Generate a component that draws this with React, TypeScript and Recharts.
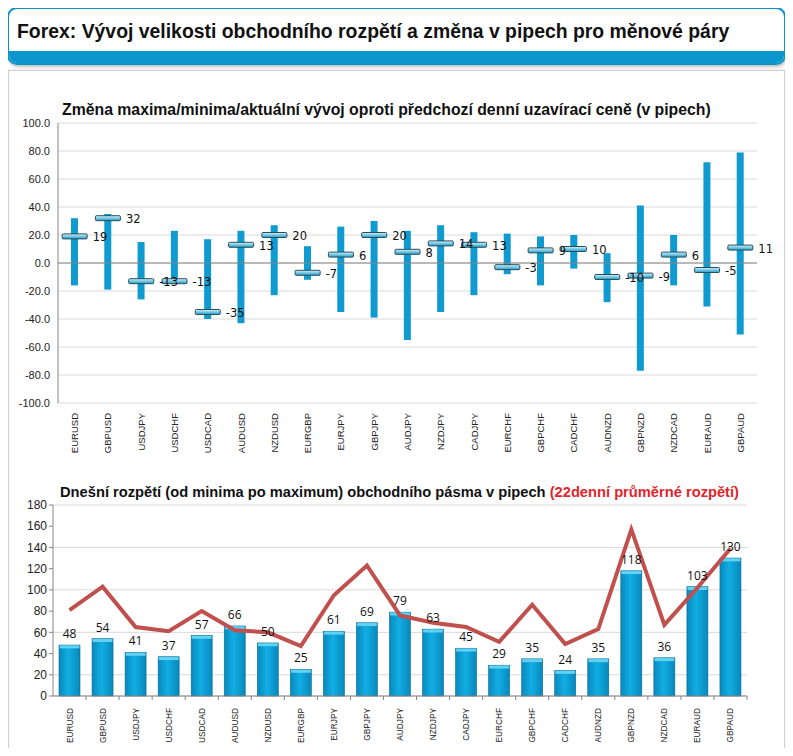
import React from 'react';
import { ComposedChart, Bar, Line, XAxis, YAxis, CartesianGrid, LabelList, ReferenceLine } from 'recharts';

const pairs = ['EURUSD', 'GBPUSD', 'USDJPY', 'USDCHF', 'USDCAD', 'AUDUSD', 'NZDUSD', 'EURGBP', 'EURJPY', 'GBPJPY', 'AUDJPY', 'NZDJPY', 'CADJPY', 'EURCHF', 'GBPCHF', 'CADCHF', 'AUDNZD', 'GBPNZD', 'NZDCAD', 'EURAUD', 'GBPAUD'];

// change vs previous daily close (pips)
const highs = [32, 35, 15, 23, 17, 23, 27, 12, 26, 30, 23, 27, 22, 21, 19, 20, 7, 41, 20, 72, 79];
const lows = [-16, -19, -26, -14, -40, -43, -23, -12, -35, -39, -55, -35, -23, -8, -16, -4, -28, -77, -16, -31, -51];
const current = [19, 32, -13, -13, -35, 13, 20, -7, 6, 20, 8, 14, 13, -3, 9, 10, -10, -9, 6, -5, 11];

// today's range and 22-day average range
const todayRange = [48, 54, 41, 37, 57, 66, 50, 25, 61, 69, 79, 63, 45, 29, 35, 24, 35, 118, 36, 103, 130];
const avgRange = [81, 103, 65, 61, 80, 62, 60, 47, 95, 123, 76, 69, 65, 51, 86, 49, 63, 157, 67, 102, 139];

const ticksTop = [-100, -80, -60, -40, -20, 0, 20, 40, 60, 80, 100];
const ticksBottom = [0, 20, 40, 60, 80, 100, 120, 140, 160, 180];

const changeData = pairs.map((p, i) => ({ pair: p, range: [lows[i], highs[i]], cur: current[i] }));
const rangeData = pairs.map((p, i) => ({ pair: p, today: todayRange[i], avg: avgRange[i] }));

const ARIAL = '"Liberation Sans", Arial, sans-serif';

const RotTick = (props: any) => {
  const { x, y, payload, size, gap, band } = props;
  const ty = y + gap;
  return (
    <g>
      {band ? <line x1={x + band / 2} x2={x + band / 2} y1={y - 8} y2={y - 4} stroke="#868686" /> : null}
      <text
        x={x}
        y={ty}
        transform={`rotate(-90 ${x} ${ty})`}
        textAnchor="end"
        dominantBaseline="central"
        fontSize={size}
        fontFamily={ARIAL}
        fill="#222"
      >
        {payload.value}
      </text>
    </g>
  );
};

const Marker = (props: any) => {
  const { cx, cy } = props;
  if (cx == null || cy == null) return null;
  return (
    <rect x={cx - 12.5} y={cy - 2.5} width={25} height={5} rx={1} fill="url(#mk)" stroke="#2a4f5a" strokeWidth={1} />
  );
};

const CurLabel = (props: any) => {
  const { x, y, value } = props;
  return (
    <text x={x + 18} y={y + 5} fontSize={11.5} fontFamily='"DejaVu Sans", sans-serif' fill="#111">
      {value}
    </text>
  );
};

const Bar3D = (props: any) => {
  const { x, y, width, height } = props;
  if (height <= 0) return null;
  return (
    <g>
      <rect x={x} y={y} width={width} height={height} fill="url(#barg)" stroke="#0b6a92" strokeWidth={0.6} />
      <rect x={x + 0.6} y={y + 0.3} width={width - 1.2} height={3} fill="#62d2f3" />
    </g>
  );
};

export default function App() {
  return (
    <div style={{ position: 'relative', width: 777, height: 740, fontFamily: ARIAL }}>
      <svg width={0} height={0} style={{ position: 'absolute' }}>
        <defs>
          <linearGradient id="mk" x1="0" y1="0" x2="0" y2="1">
            <stop offset="0%" stopColor="#d4f3fb" />
            <stop offset="100%" stopColor="#1f9cc9" />
          </linearGradient>
          <linearGradient id="barg" x1="0" y1="0" x2="1" y2="0">
            <stop offset="0%" stopColor="#0789bd" />
            <stop offset="45%" stopColor="#12aee4" />
            <stop offset="100%" stopColor="#0788bb" />
          </linearGradient>
        </defs>
      </svg>

      {/* header */}
      <div
        style={{
          position: 'absolute',
          left: -1,
          top: -1,
          width: 775,
          height: 54,
          border: '2px solid #0b92c9',
          borderRadius: 10,
          overflow: 'hidden',
          background: '#fff',
          boxShadow: '1px 2px 3px rgba(0,0,0,0.25)',
        }}
      >
        <div style={{ position: 'absolute', left: 8, top: 11, fontSize: 19.4, fontWeight: 'bold', color: '#111', whiteSpace: 'nowrap' }}>
          Forex: Vývoj velikosti obchodního rozpětí a změna v pipech pro měnové páry
        </div>
        <div style={{ position: 'absolute', left: 0, right: 0, bottom: 0, height: 12, background: '#0b96cc' }} />
      </div>

      {/* panel */}
      <div
        style={{
          position: 'absolute',
          left: 0,
          top: 62,
          width: 775,
          height: 700,
          border: '1px solid #d0d0d0',
          boxShadow: '-1px 0 3px rgba(0,0,0,0.12)',
          background: '#fff',
        }}
      />

      {/* chart 1 title */}
      <div style={{ position: 'absolute', left: 54, top: 93, fontSize: 15.8, fontWeight: 'bold', color: '#111', whiteSpace: 'nowrap' }}>
        Změna maxima/minima/aktuální vývoj oproti předchozí denní uzavírací ceně (v pipech)
      </div>

      <div style={{ position: 'absolute', left: 0, top: 87 }}>
        <ComposedChart width={770} height={370} data={changeData} margin={{ top: 28, right: 21, bottom: 0, left: 0 }}>
          <CartesianGrid horizontal vertical={false} stroke="#d9d9d9" />
          <XAxis
            dataKey="pair"
            interval={0}
            axisLine={false}
            tickLine={false}
            height={62}
            tick={<RotTick size={9.5} gap={2} />}
          />
          <YAxis
            domain={[-100, 100]}
            ticks={ticksTop}
            width={50}
            axisLine={{ stroke: '#868686' }}
            tickLine={false}
            tickFormatter={(v: number) => v.toFixed(1)}
            tick={{ fontSize: 11, fill: '#222', fontFamily: ARIAL }}
          />
          <ReferenceLine y={0} stroke="#868686" />
          <Bar dataKey="range" barSize={7} fill="#0f9ad0" isAnimationActive={false} />
          <Line
            dataKey="cur"
            stroke="transparent"
            dot={<Marker />}
            activeDot={false}
            isAnimationActive={false}
          >
            <LabelList dataKey="cur" content={<CurLabel />} />
          </Line>
        </ComposedChart>
      </div>

      {/* chart 2 title */}
      <div style={{ position: 'absolute', left: 52, top: 476, fontSize: 14.7, fontWeight: 'bold', color: '#111', whiteSpace: 'nowrap' }}>
        Dnešní rozpětí (od minima po maximum) obchodního pásma v pipech{' '}
        <span style={{ color: '#e0262c' }}>(22denní průměrné rozpětí)</span>
      </div>

      <div style={{ position: 'absolute', left: 0, top: 472 }}>
        <ComposedChart width={770} height={280} data={rangeData} margin={{ top: 25, right: 31, bottom: 0, left: 0 }}>
          <CartesianGrid horizontal vertical={false} stroke="#d9d9d9" />
          <XAxis
            dataKey="pair"
            interval={0}
            axisLine={{ stroke: '#868686' }}
            tickLine={false}
            height={64}
            tick={<RotTick size={8.3} gap={4} band={33.05} />}
          />
          <YAxis
            domain={[0, 180]}
            ticks={ticksBottom}
            width={45}
            axisLine={{ stroke: '#868686' }}
            tickLine={{ stroke: '#868686' }}
            tickSize={4}
            tick={{ fontSize: 12, fill: '#222', fontFamily: ARIAL }}
          />
          <Bar dataKey="today" barSize={21} shape={<Bar3D />} isAnimationActive={false}>
            <LabelList dataKey="today" position="top" offset={7} fontSize={12} fill="#111" fontFamily='"Open Sans", sans-serif' />
          </Bar>
          <Line dataKey="avg" stroke="#c0504d" strokeWidth={4} dot={false} activeDot={false} isAnimationActive={false} />
        </ComposedChart>
      </div>
    </div>
  );
}
